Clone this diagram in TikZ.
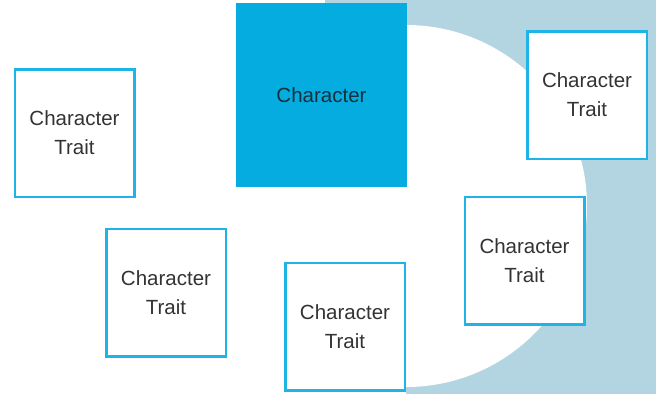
\documentclass[tikz,border=0pt]{standalone}
\usepackage{fontspec}
\setmainfont{Liberation Sans}
\definecolor{bgblue}{HTML}{B3D5E1}
\definecolor{boxline}{HTML}{1EB4E6}
\definecolor{mainfill}{HTML}{05ACDF}
\definecolor{txt}{HTML}{333333}
\definecolor{maintxt}{HTML}{16303C}
\tikzset{
  trait/.style={draw=boxline, line width=2.5pt, fill=white, minimum width=119.5pt, minimum height=127.5pt,
    align=center, text=txt, font=\fontsize{20.5}{29}\selectfont, inner sep=0pt},
  mainbox/.style={fill=mainfill, minimum width=171pt, minimum height=184pt, text=maintxt,
    font=\fontsize{20.5}{29}\selectfont, inner sep=0pt}
}
\begin{document}
\begin{tikzpicture}[x=1pt,y=-1pt]
\useasboundingbox (0,0) rectangle (656,394);
\fill[white] (0,0) rectangle (656,394);
\fill[bgblue] (325,0) rectangle (656,394);
\fill[white] (406,206) circle[radius=181pt];
\fill[white] (325,300) rectangle (406,394);
\node[mainbox] (c) at (321.5,95) {Character};
\node[trait] (t1) at (74.5,133) {Character\\Trait};
\node[trait] (t2) at (166,292.5) {Character\\Trait};
\node[trait] (t3) at (345,326.5) {Character\\Trait};
\node[trait] (t4) at (524.5,260.5) {Character\\Trait};
\node[trait] (t5) at (587,95) {Character\\Trait};
\end{tikzpicture}
\end{document}
